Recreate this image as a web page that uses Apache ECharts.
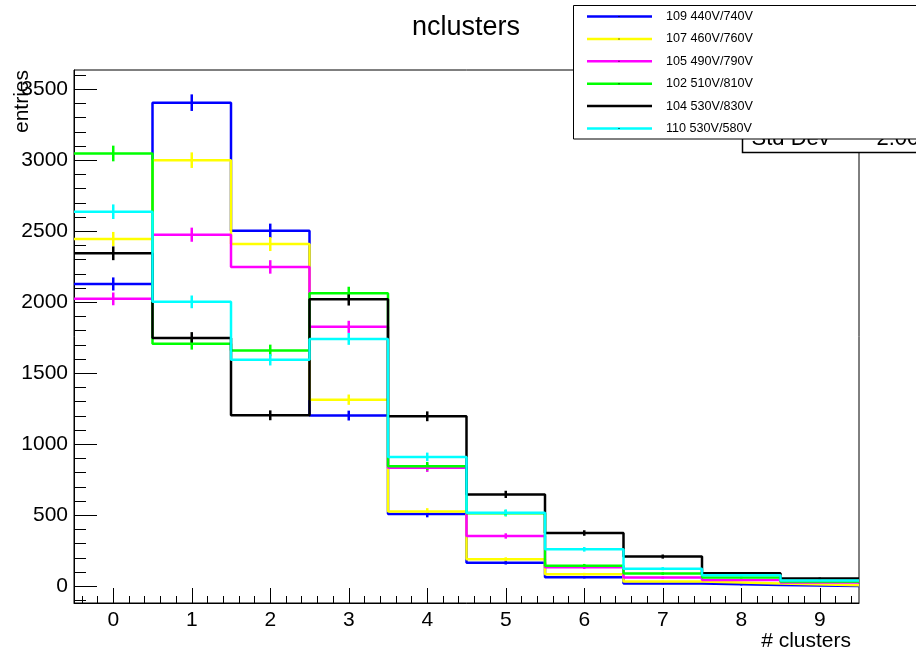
<!DOCTYPE html>
<html>
<head>
<meta charset="utf-8">
<script src="https://cdn.jsdelivr.net/npm/echarts@6/dist/echarts.min.js"></script>
<style>
html,body{margin:0;padding:0;background:#fff;}
#c{width:916px;height:654px;}
</style>
</head>
<body>
<div id="c"></div>
<script>
// ---------- data ----------
const bins = [0, 1, 2, 3, 4, 5, 6, 7, 8, 9];
const seriesNames = ['109 440V/740V', '107 460V/760V', '105 490V/790V', '102 510V/810V', '104 530V/830V', '110 530V/580V'];
const seriesColors = ['#0000ff', '#ffff00', '#ff00ff', '#00ff00', '#000000', '#00ffff'];
const h109 = [2129, 3406, 2504, 1202, 508, 166, 63, 19, 9, 2];
const h107 = [2446, 3001, 2410, 1314, 527, 190, 85, 33, 19, 7];
const h105 = [2024, 2476, 2249, 1827, 834, 354, 133, 61, 44, 26];
const h102 = [3048, 1708, 1661, 2064, 846, 515, 145, 89, 61, 33];
const h104 = [2345, 1748, 1204, 2022, 1197, 647, 375, 209, 91, 54];
const h110 = [2638, 2003, 1595, 1742, 911, 518, 260, 124, 77, 40];
const seriesValues = [h109, h107, h105, h102, h104, h110];
const xTickLabels = [0, 1, 2, 3, 4, 5, 6, 7, 8, 9];
const yTickLabels = [0, 500, 1000, 1500, 2000, 2500, 3000, 3500];
const xRange = [-0.5, 9.5];
const yRange = [-118, 3636];
const xMinorStep = 0.2;
const yMinorStep = 100;

// minor tick positions (axis decoration only)
function minorTicks(range, step, majors) {
  const out = [];
  const start = Math.ceil(range[0] / step);
  const end = Math.floor(range[1] / step);
  for (let k = start; k <= end; k++) {
    const v = Math.round(k * step * 1000) / 1000;
    if (v <= range[0] || v >= range[1]) continue;
    if (majors.some(m => Math.abs(m - v) < 1e-6)) continue;
    out.push(v);
  }
  return out;
}
const xMinor = minorTicks(xRange, xMinorStep, xTickLabels);
const yMinor = minorTicks(yRange, yMinorStep, yTickLabels);

const FONT = '"Liberation Sans", Arial, Helvetica, sans-serif';
const LW = 2.5;
const chart = echarts.init(document.getElementById('c'), null, {renderer: 'canvas'});

const series = [];
seriesValues.forEach((vals, s) => {
  const stepData = bins.map((b, i) => [b - 0.5, vals[i]]);
  stepData.push([bins[bins.length - 1] + 0.5, vals[vals.length - 1]]);
  series.push({
    type: 'line',
    name: seriesNames[s],
    step: 'end',
    data: stepData,
    showSymbol: false,
    symbol: 'none',
    lineStyle: {color: seriesColors[s], width: LW},
    itemStyle: {color: seriesColors[s]},
    animation: false,
    clip: true,
    z: 2
  });
  series.push({
    type: 'custom',
    name: seriesNames[s] + ' err',
    data: bins.map((b, i) => [b, vals[i]]),
    encode: {x: 0, y: 1},
    clip: true,
    animation: false,
    z: 2,
    renderItem: function (params, api) {
      const x = api.value(0), y = api.value(1), e = Math.sqrt(y);
      const p1 = api.coord([x, y - e]);
      const p2 = api.coord([x, y + e]);
      return {
        type: 'line',
        shape: {x1: p1[0], y1: p1[1], x2: p2[0], y2: p2[1]},
        style: {stroke: seriesColors[s], lineWidth: LW}
      };
    }
  });
});

const legendRows = seriesNames.map((n, i) => {
  const y = 16.5 + i * 22.4;
  return [
    {type: 'line', shape: {x1: 587, y1: y, x2: 652, y2: y}, style: {stroke: seriesColors[i], lineWidth: LW}, z: 102},
    {type: 'rect', shape: {x: 618.5, y: y - 0.5, width: 1, height: 1}, style: {fill: '#000'}, z: 103},
    {type: 'text', x: 666, y: y, style: {text: n, font: '12.6px ' + FONT, fill: '#000', textAlign: 'left', textVerticalAlign: 'middle'}, z: 102}
  ];
}).flat();

const option = {
  animation: false,
  backgroundColor: '#fff',
  grid: {left: 74, right: 57, top: 70, bottom: 51, show: true, borderColor: '#000', borderWidth: 1, backgroundColor: 'transparent', containLabel: false, outerBoundsMode: 'none'},
  xAxis: [
    {
      type: 'value', min: xRange[0], max: xRange[1], position: 'bottom',
      axisLine: {show: true, onZero: false, lineStyle: {color: '#000', width: 1}},
      axisTick: {show: true, inside: true, length: 15, customValues: xTickLabels, lineStyle: {color: '#000', width: 1}},
      axisLabel: {show: true, customValues: xTickLabels, fontSize: 21, fontFamily: FONT, color: '#000', margin: 7, formatter: v => String(v)},
      splitLine: {show: false}
    },
    {
      type: 'value', min: xRange[0], max: xRange[1], position: 'bottom',
      axisLine: {show: false, onZero: false},
      axisTick: {show: true, inside: true, length: 7, customValues: xMinor, lineStyle: {color: '#000', width: 1}},
      axisLabel: {show: false},
      splitLine: {show: false}
    }
  ],
  yAxis: [
    {
      type: 'value', min: yRange[0], max: yRange[1], position: 'left',
      axisLine: {show: true, onZero: false, lineStyle: {color: '#000', width: 1}},
      axisTick: {show: true, inside: true, length: 23, customValues: yTickLabels, lineStyle: {color: '#000', width: 1}},
      axisLabel: {show: true, customValues: yTickLabels, fontSize: 21, fontFamily: FONT, color: '#000', margin: 6, formatter: v => String(v)},
      splitLine: {show: false}
    },
    {
      type: 'value', min: yRange[0], max: yRange[1], position: 'left',
      axisLine: {show: false, onZero: false},
      axisTick: {show: true, inside: true, length: 12, customValues: yMinor, lineStyle: {color: '#000', width: 1}},
      axisLabel: {show: false},
      splitLine: {show: false}
    }
  ],
  series: series,
  graphic: [
    {type: 'text', x: 466, y: 28, style: {text: 'nclusters', font: '27px ' + FONT, fill: '#000', textAlign: 'center', textVerticalAlign: 'middle'}, z: 100},
    {type: 'text', x: 22, y: 70, rotation: Math.PI / 2, style: {text: 'entries', font: '21px ' + FONT, fill: '#000', textAlign: 'right', textVerticalAlign: 'middle'}, z: 100},
    {type: 'text', x: 851, y: 641, style: {text: '# clusters', font: '21px ' + FONT, fill: '#000', textAlign: 'right', textVerticalAlign: 'middle'}, z: 100},
    // statistics box (partly hidden)
    {type: 'rect', shape: {x: 742.5, y: 40.5, width: 200, height: 112}, style: {fill: '#fff', stroke: '#000', lineWidth: 1.5}, z: 90},
    {type: 'text', x: 751.5, y: 139, style: {text: 'Std Dev', font: '22px ' + FONT, fill: '#000', textAlign: 'left', textVerticalAlign: 'middle'}, z: 91},
    {type: 'text', x: 876.5, y: 139, style: {text: '2.00', font: '22px ' + FONT, fill: '#000', textAlign: 'left', textVerticalAlign: 'middle'}, z: 91},
    // legend box
    {type: 'rect', shape: {x: 573.5, y: 5.5, width: 400, height: 133.5}, style: {fill: '#fff', stroke: '#000', lineWidth: 1}, z: 101}
  ].concat(legendRows)
};
chart.setOption(option);
</script>
</body>
</html>
